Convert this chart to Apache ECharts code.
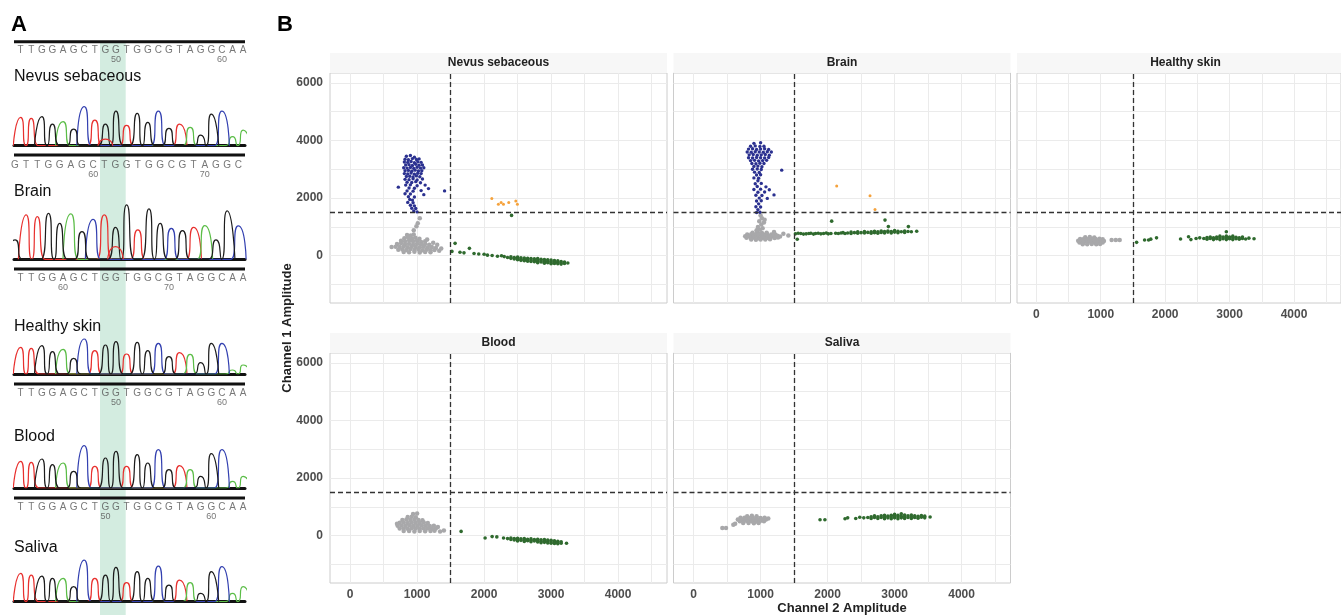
<!DOCTYPE html>
<html>
<head>
<meta charset="utf-8">
<script src="https://cdn.jsdelivr.net/npm/echarts@6/dist/echarts.min.js"></script>
<style>
html, body { margin: 0; padding: 0; background: #fff; }
#chart { width: 1341px; height: 615px; }
</style>
</head>
<body>
<div id="chart"></div>
<script>
// ---------- panel A: Sanger traces ----------
var sampleNames = ['Nevus sebaceous', 'Brain', 'Healthy skin', 'Blood', 'Saliva'];
var seqMain = 'TTGGAGCTGGTGGCGTAGGCAA';
var seqBrain = 'GTTGGAGCTGGTGGCGTAGGC';
// peak heights per base call, in order
var nevusPeaks   = [85, 82, 87, 65, 72, 50, 117, 77, 65, 104, 61, 97, 70, 104, 52, 65, 55, 32, 95, 104, 27, 47];
var brainPeaks   = [58, 133, 128, 138, 108, 136, 83, 120, 133, 96, 163, 88, 151, 108, 93, 86, 96, 101, 58, 145, 100];
var healthyPeaks = [80, 77, 85, 67, 74, 47, 105, 70, 87, 97, 60, 95, 70, 92, 52, 64, 59, 34, 92, 92, 12, 27];
var bloodPeaks   = [80, 77, 87, 70, 75, 50, 127, 65, 90, 110, 65, 100, 75, 115, 55, 67, 55, 35, 103, 115, 20, 35];
var salivaPeaks  = [85, 80, 77, 70, 70, 45, 125, 70, 80, 103, 57, 90, 70, 107, 50, 65, 57, 25, 90, 105, 25, 45];
// small secondary T peaks under the main call: [base index, height]
var nevusMinor = [[8, 20]];
var brainMinor = [[9, 38]];
var healthyMinor = [];
var bloodMinor = [];
var salivaMinor = [];
// position numbers printed under the base letters: [base index, label]
var numsRow1 = [[9, '50'], [19, '60']];
var numsRow2 = [[7, '60'], [17, '70']];
var numsRow3 = [[4, '60'], [14, '70']];
var numsRow4 = [[9, '50'], [19, '60']];
var numsRow5 = [[8, '50'], [18, '60']];

// ---------- panel B: droplet amplitudes ----------
var thresholdX = 1500, thresholdY = 1500;
var xTickLabels = [0, 1000, 2000, 3000, 4000];
var yTickLabels = [0, 2000, 4000, 6000];
var xGridValues = [0, 500, 1000, 1500, 2000, 2500, 3000, 3500, 4000, 4500];
var yGridValues = [-1000, 0, 1000, 2000, 3000, 4000, 5000, 6000];
var facetNames = ['Nevus sebaceous', 'Brain', 'Healthy skin', 'Blood', 'Saliva'];

var nevusGray = [[850,720],[905,700],[950,740],
 [810,610],[865,640],[925,600],[975,620],[1035,590],[900,560],
 [760,520],[820,500],[880,540],[940,500],[1000,520],[1060,480],[1120,500],
 [700,410],[760,430],[820,400],[880,420],[940,390],[1000,420],[1060,400],[1120,410],[1180,380],
 [680,310],[740,300],[800,320],[860,290],[920,310],[980,300],[1040,290],[1100,310],[1160,280],[1220,300],[1280,270],
 [720,210],[780,220],[840,200],[900,230],[960,200],[1020,220],[1080,190],[1140,210],[1200,190],[1260,200],[1330,170],
 [800,130],[880,120],[960,140],[1040,110],[1120,130],[1200,120],
 [620,300],[1360,250],[1300,380],[950,880],[990,1020],[1040,1300],[1010,1130],[1240,450],[1150,560]];
var nevusBlue = [[840,3450],[900,3480],[960,3420],
 [820,3350],[870,3330],[930,3370],[990,3340],[1030,3360],
 [810,3250],[860,3240],[910,3270],[960,3230],[1010,3260],[1060,3240],
 [830,3150],[880,3160],[930,3130],[980,3170],[1030,3140],[1080,3150],
 [800,3050],[850,3040],[900,3060],[950,3030],[1000,3070],[1050,3040],[1100,3050],
 [820,2950],[870,2960],[920,2930],[970,2970],[1020,2940],[1070,2950],
 [810,2850],[860,2840],[910,2870],[960,2830],[1010,2860],[1060,2850],
 [840,2750],[890,2760],[940,2730],[990,2770],[1040,2740],
 [820,2650],[880,2640],[940,2670],[1000,2630],[1080,2660],
 [850,2550],[920,2540],[980,2570],[1050,2530],
 [830,2450],[900,2460],[1000,2430],[1120,2450],
 [720,2380],[880,2350],[960,2340],[1170,2330],
 [850,2250],[940,2240],[1060,2260],[1410,2250],
 [820,2150],[900,2140],[1100,2120],
 [870,2050],[960,2040],[890,1950],[930,1930],[860,1850],[940,1840],
 [900,1750],[960,1730],[920,1650],[980,1640],[950,1550],[1000,1520]];
var nevusGreen = [[1520,150],[1567,430],[1640,120],[1700,100],[1781,256],[1850,80],[1920,60],[2000,50],[2050,20],[2120,10],[2200,-20],[2260,0],[2300,-30],[2350,-60],
 [2400,-40],[2400,-90],[2450,-60],[2450,-110],
 [2500,-50],[2500,-100],[2500,-140],[2550,-70],[2550,-120],[2550,-160],
 [2600,-80],[2600,-130],[2600,-170],[2650,-90],[2650,-140],[2650,-190],
 [2700,-100],[2700,-150],[2700,-200],[2750,-110],[2750,-160],[2750,-210],
 [2800,-100],[2800,-150],[2800,-200],[2800,-240],[2850,-120],[2850,-170],[2850,-220],
 [2900,-130],[2900,-180],[2900,-230],[2900,-260],[2950,-140],[2950,-190],[2950,-240],
 [3000,-150],[3000,-200],[3000,-250],[3000,-280],[3050,-170],[3050,-220],[3050,-270],
 [3100,-180],[3100,-230],[3100,-280],[3150,-200],[3150,-250],[3150,-290],
 [3200,-220],[3200,-270],[3250,-250],[2410,1400]];
var nevusOrange = [[2115,1990],[2213,1790],[2254,1850],[2289,1790],[2368,1850],[2473,1900],[2497,1790]];

var brainGray = [[880,800],[950,810],[1020,790],[1090,800],
 [800,740],[860,745],[920,735],[980,750],[1040,740],[1100,745],[1160,735],[1220,740],
 [770,680],[830,685],[890,675],[950,690],[1010,680],[1070,685],[1130,675],[1190,680],[1250,690],[1290,670],
 [790,620],[850,615],[910,625],[970,610],[1030,620],[1090,615],[1150,625],[1210,615],[1260,630],
 [860,560],[930,555],[1000,565],[1070,560],[1140,570],
 [990,900],[1030,950],[960,1000],[1010,1080],[1050,1150],[980,1200],[1020,1300],[1000,1400],[1060,1250],[940,880],
 [1340,760],[1414,700],[1200,820]];
var brainBlue = [[900,3900],[1000,3920],
 [850,3800],[920,3810],[990,3790],[1050,3800],
 [820,3700],[880,3710],[940,3690],[1000,3700],[1060,3710],[1120,3690],
 [800,3600],[860,3590],[920,3610],[980,3600],[1040,3590],[1100,3610],[1160,3600],
 [830,3500],[890,3510],[950,3490],[1010,3500],[1070,3510],[1130,3490],
 [820,3400],[880,3390],[940,3410],[1000,3400],[1060,3390],[1120,3410],
 [850,3300],[910,3310],[970,3290],[1030,3300],[1090,3310],
 [870,3200],[930,3190],[990,3210],[1050,3200],
 [900,3100],[960,3110],[1020,3090],
 [880,3000],[950,3010],[1010,2990],[1315,2970],
 [910,2900],[980,2890],[940,2800],[1000,2810],[900,2700],[970,2690],[960,2600],
 [920,2500],[1010,2510],[950,2400],[1080,2390],[900,2300],[1000,2310],[1130,2290],
 [960,2200],[1060,2210],[930,2100],[1020,2090],[1200,2110],[980,2000],[1100,1990],
 [940,1900],[1010,1910],[970,1800],[930,1700],[1000,1690],[960,1600],[940,1500],[990,1510]];
var brainGreen = [[1520,760],[1547,570],[1560,780],[1600,770],[1640,750],[1680,760],[1720,770],[1750,780],[1790,750],[1820,770],[1860,780],[1900,760],[1940,770],[1980,790],[2010,760],[2050,770],[2061,1200],[2120,780],[2160,770],[2200,790],[2230,800],[2260,770],
 [2300,790],[2350,770],[2350,820],[2400,800],[2450,780],[2450,830],[2500,800],[2550,790],[2550,840],[2600,810],[2650,780],[2650,830],
 [2700,800],[2700,850],[2750,780],[2750,830],[2800,810],[2800,860],[2850,790],[2850,840],[2900,820],[2900,860],[2950,790],[2950,840],
 [3000,820],[3000,870],[3050,800],[3050,850],[3100,830],[3150,810],[3150,860],[3200,840],[3250,830],[3330,850],
 [2857,1237],[2907,1010],[3206,1010]];
var brainOrange = [[2136,2416],[2633,2080],[2708,1608]];

var healthyGray = [[760,640],[830,650],[900,635],
 [680,580],[740,585],[800,575],[860,590],[920,580],[980,585],[1030,575],
 [650,520],[710,515],[770,525],[830,520],[890,515],[950,525],[1010,520],[1050,510],
 [670,460],[730,455],[790,465],[850,460],[910,455],[970,465],[1030,460],
 [720,400],[790,395],[860,405],[930,400],[990,410],
 [1169,545],[1234,545],[1294,545]];
var healthyGreen = [[1557,465],[1681,545],[1743,545],[1777,575],[1866,620],[2239,580],[2363,660],[2400,560],[2480,600],[2537,620],
 [2600,600],[2650,570],[2650,630],[2700,600],[2700,650],[2750,560],[2750,620],[2800,590],[2800,650],
 [2850,560],[2850,620],[2850,680],[2900,590],[2900,650],[2950,560],[2950,620],[2950,680],[2950,830],
 [3000,590],[3000,650],[3050,560],[3050,620],[3050,680],[3100,590],[3100,640],[3150,570],[3150,620],
 [3200,600],[3200,650],[3250,580],[3300,610],[3380,590]];

var bloodGray = [[940,750],[1000,770],
 [860,650],[920,660],[980,640],
 [780,550],[840,560],[900,545],[960,555],[1020,550],[1080,540],
 [740,450],[800,455],[860,445],[920,460],[980,450],[1040,445],[1100,455],[1160,440],
 [710,350],[770,355],[830,345],[890,360],[950,350],[1010,345],[1070,355],[1130,350],[1190,340],[1250,345],
 [740,250],[800,255],[860,245],[920,260],[980,250],[1040,245],[1100,255],[1160,250],[1220,240],[1280,250],
 [800,160],[880,165],[960,150],[1040,160],[1120,155],[1200,160],[1260,170],
 [1310,300],[1343,150],[1400,180],[700,420]];
var bloodGreen = [[1657,150],[2015,-80],[2120,-30],[2190,-40],[2290,-80],[2350,-100],
 [2400,-80],[2400,-130],[2450,-100],[2450,-150],[2500,-90],[2500,-140],[2500,-180],[2550,-110],[2550,-160],
 [2600,-100],[2600,-150],[2600,-200],[2650,-120],[2650,-170],[2700,-110],[2700,-160],[2700,-210],[2750,-130],[2750,-180],
 [2800,-120],[2800,-170],[2800,-220],[2850,-140],[2850,-190],[2850,-240],[2900,-130],[2900,-180],[2900,-230],
 [2950,-150],[2950,-200],[2950,-250],[3000,-160],[3000,-210],[3000,-260],[3050,-180],[3050,-230],[3050,-270],
 [3100,-190],[3100,-240],[3100,-280],[3150,-210],[3150,-260],[3230,-260]];

var salivaGray = [[800,680],[870,690],[940,675],
 [700,620],[760,625],[820,615],[880,620],[940,625],[1000,615],[1060,620],
 [660,560],[720,565],[780,555],[840,560],[900,565],[960,555],[1020,560],[1080,565],[1115,600],
 [690,500],[750,495],[810,505],[870,500],[930,495],[990,505],[1050,500],
 [740,440],[820,445],[900,435],[970,440],
 [429,267],[484,267],[593,381],[620,420]];
var salivaGreen = [[1887,555],[1960,555],[2260,590],[2300,620],[2420,600],[2480,640],[2540,620],
 [2600,630],[2650,600],[2650,660],[2700,630],[2700,690],[2750,600],[2750,660],[2800,630],[2800,690],
 [2850,590],[2850,650],[2850,710],[2900,620],[2900,680],[2950,590],[2950,650],[2950,710],
 [3000,620],[3000,680],[3000,740],[3050,590],[3050,650],[3050,710],[3100,620],[3100,680],[3100,760],
 [3150,600],[3150,660],[3150,720],[3200,630],[3200,690],[3250,600],[3250,660],[3250,720],
 [3300,630],[3300,690],[3350,610],[3350,670],[3400,640],[3400,700],[3450,620],[3450,680],[3530,650]];

// ---------- build ----------
var chart = echarts.init(document.getElementById('chart'));
var FONT = 'Liberation Sans, Arial, sans-serif';
var grids = [], xAxes = [], yAxes = [], series = [], graphics = [];

function addGrid(g, xa, ya) {
    grids.push(g);
    xa.gridIndex = grids.length - 1;
    ya.gridIndex = grids.length - 1;
    xAxes.push(xa);
    yAxes.push(ya);
    return grids.length - 1;
}

var baseColors = { G: '#1c1c1c', A: '#5bbd47', C: '#3340b0', T: '#e8302e' };
var mainRange = [-0.63, 21.18], brainRange = [-0.09, 20.6];
var halfW = 0.7;

var traces = [
    { seq: seqMain,  peaks: nevusPeaks,   minor: nevusMinor,   range: mainRange,  base: 145.7 },
    { seq: seqBrain, peaks: brainPeaks,   minor: brainMinor,   range: brainRange, base: 259.3 },
    { seq: seqMain,  peaks: healthyPeaks, minor: healthyMinor, range: mainRange,  base: 374 },
    { seq: seqMain,  peaks: bloodPeaks,   minor: bloodMinor,   range: mainRange,  base: 488 },
    { seq: seqMain,  peaks: salivaPeaks,  minor: salivaMinor,  range: mainRange,  base: 601.7 }
];

traces.forEach(function (t) {
    var gi = addGrid(
        { left: 14, width: 231, top: t.base - 60, height: 60, show: false },
        { type: 'value', min: t.range[0], max: t.range[1],
          axisLine: { show: true, onZero: false, lineStyle: { color: '#111', width: 3 } },
          axisTick: { show: false }, axisLabel: { show: false }, splitLine: { show: false } },
        { type: 'value', min: 0, max: 180, show: false }
    );
    function peakLine(pts, color) {
        series.push({
            type: 'line', xAxisIndex: gi, yAxisIndex: gi, data: pts,
            smooth: 0.9, showSymbol: false, silent: true, clip: true, z: 3,
            lineStyle: { color: color, width: 1.2 }
        });
    }
    ['T', 'A', 'C', 'G'].forEach(function (b) {
        var pts = [];
        t.peaks.forEach(function (h, i) {
            if (t.seq.charAt(i) !== b) return;
            // neighbouring calls of the same base share the valley between them
            if (t.seq.charAt(i - 1) !== b) pts.push([i - halfW, 0]);
            pts.push([i, h]);
            pts.push(t.seq.charAt(i + 1) === b ? [i + 0.5, 0] : [i + halfW, 0]);
        });
        pts.sort(function (a, b2) { return a[0] - b2[0]; });
        peakLine(pts, baseColors[b]);
    });
    if (t.minor.length) {
        var mp = [];
        t.minor.forEach(function (m) { mp.push([m[0] - halfW, 0], [m[0], m[1]], [m[0] + halfW, 0]); });
        peakLine(mp, baseColors.T);
    }
});

var letterRows = [
    { seq: seqMain,  nums: numsRow1, range: mainRange,  y: 50 },
    { seq: seqBrain, nums: numsRow2, range: brainRange, y: 165 },
    { seq: seqMain,  nums: numsRow3, range: mainRange,  y: 278 },
    { seq: seqMain,  nums: numsRow4, range: mainRange,  y: 393 },
    { seq: seqMain,  nums: numsRow5, range: mainRange,  y: 507 }
];
letterRows.forEach(function (r) {
    var gi = addGrid(
        { left: 14, width: 231, top: r.y, height: 10, show: false },
        { type: 'value', min: r.range[0], max: r.range[1], show: false },
        { type: 'value', min: 0, max: 1, show: false }
    );
    var letters = r.seq.split('');
    series.push({
        type: 'scatter', xAxisIndex: gi, yAxisIndex: gi, silent: true, symbolSize: 1,
        itemStyle: { color: 'rgba(0,0,0,0)' },
        data: letters.map(function (c, i) { return [i, 1]; }),
        label: { show: true, position: 'inside', fontSize: 10, color: '#555', fontFamily: FONT,
                 formatter: function (p) { return letters[p.dataIndex]; } }
    });
    series.push({
        type: 'scatter', xAxisIndex: gi, yAxisIndex: gi, silent: true, symbolSize: 1,
        itemStyle: { color: 'rgba(0,0,0,0)' },
        data: r.nums.map(function (n) { return [n[0], 0]; }),
        label: { show: true, position: 'inside', fontSize: 9, color: '#555', fontFamily: FONT,
                 formatter: function (p) { return r.nums[p.dataIndex][1]; } }
    });
});

// decorations of panel A
graphics.push({ type: 'rect', z: -5, shape: { x: 100, y: 43, width: 25.7, height: 572 }, style: { fill: '#d3ece0' } });
[41.7, 155, 269, 384, 498].forEach(function (y) {
    graphics.push({ type: 'line', z: 5, shape: { x1: 14, y1: y, x2: 245, y2: y }, style: { stroke: '#111', lineWidth: 3 } });
});
var nameY = [77, 191.7, 326.7, 436.7, 548];
sampleNames.forEach(function (n, i) {
    graphics.push({ type: 'text', z: 10, x: 14, y: nameY[i],
        style: { text: n, fontSize: 16, fontFamily: FONT, fill: '#111', textVerticalAlign: 'middle' } });
});
graphics.push({ type: 'text', z: 10, x: 11, y: 25, style: { text: 'A', fontSize: 22, fontWeight: 'bold', fontFamily: FONT, fill: '#000', textVerticalAlign: 'middle' } });
graphics.push({ type: 'text', z: 10, x: 277, y: 25, style: { text: 'B', fontSize: 22, fontWeight: 'bold', fontFamily: FONT, fill: '#000', textVerticalAlign: 'middle' } });

// panel B facets
var facetW = 337, facetH = 230;
var facetPos = [[330, 73], [673.5, 73], [1017, 73], [330, 353], [673.5, 353]];
var facetData = [
    { gray: nevusGray,   blue: nevusBlue, green: nevusGreen,   orange: nevusOrange },
    { gray: brainGray,   blue: brainBlue, green: brainGreen,   orange: brainOrange },
    { gray: healthyGray, blue: [],        green: healthyGreen, orange: [] },
    { gray: bloodGray,   blue: [],        green: bloodGreen,   orange: [] },
    { gray: salivaGray,  blue: [],        green: salivaGreen,  orange: [] }
];
var dropColors = { gray: '#a8a8aa', blue: '#2b3190', green: '#2f6a2e', orange: '#f5a23c' };
var dropSizes = { gray: 4.5, blue: 3.4, green: 3.6, orange: 3 };
var tickText = { color: '#4d4d4d', fontSize: 12, fontWeight: 'bold', fontFamily: FONT };

facetData.forEach(function (f, k) {
    var left = facetPos[k][0], top = facetPos[k][1];
    var gi = addGrid(
        { left: left, top: top, width: facetW, height: facetH, show: true,
          borderColor: '#cccccc', borderWidth: 1, backgroundColor: '#fff' },
        { type: 'value', min: -300, max: 4730,
          axisLine: { show: false },
          axisTick: { show: false, customValues: xGridValues },
          axisLabel: Object.assign({ show: k >= 2, margin: 6, customValues: xTickLabels,
                                     formatter: function (v) { return String(v); } }, tickText),
          splitLine: { show: true, lineStyle: { color: '#ebebeb', width: 1 } } },
        { type: 'value', min: -1640, max: 6340,
          axisLine: { show: false },
          axisTick: { show: false, customValues: yGridValues },
          axisLabel: Object.assign({ show: k === 0 || k === 3, margin: 7, customValues: yTickLabels,
                                     formatter: function (v) { return String(v); } }, tickText),
          splitLine: { show: true, lineStyle: { color: '#ebebeb', width: 1 } } }
    );
    ['gray', 'blue', 'orange', 'green'].forEach(function (c, ci) {
        var s = {
            type: 'scatter', xAxisIndex: gi, yAxisIndex: gi, data: f[c], silent: true,
            symbolSize: dropSizes[c], itemStyle: { color: dropColors[c], opacity: 1 }
        };
        if (ci === 0) {
            s.markLine = {
                silent: true, symbol: 'none', label: { show: false }, z: 5,
                lineStyle: { color: '#333', type: [5, 3], width: 1.3 },
                data: [{ xAxis: thresholdX }, { yAxis: thresholdY }]
            };
        }
        series.push(s);
    });
    graphics.push({ type: 'rect', shape: { x: left, y: top - 20, width: facetW, height: 20 }, style: { fill: '#f7f7f7' } });
    graphics.push({ type: 'text', x: left + facetW / 2, y: top - 10,
        style: { text: facetNames[k], fontSize: 12, fontWeight: 'bold', fontFamily: FONT, fill: '#222',
                 textAlign: 'center', textVerticalAlign: 'middle' } });
});

graphics.push({ type: 'text', x: 842, y: 608,
    style: { text: 'Channel 2 Amplitude', fontSize: 13, fontWeight: 'bold', fontFamily: FONT, fill: '#222',
             textAlign: 'center', textVerticalAlign: 'middle' } });
graphics.push({ type: 'text', x: 287, y: 328, rotation: Math.PI / 2,
    style: { text: 'Channel 1 Amplitude', fontSize: 13, fontWeight: 'bold', fontFamily: FONT, fill: '#222',
             textAlign: 'center', textVerticalAlign: 'middle' } });

chart.setOption({
    animation: false,
    backgroundColor: '#fff',
    textStyle: { fontFamily: FONT },
    grid: grids,
    xAxis: xAxes,
    yAxis: yAxes,
    series: series,
    graphic: graphics
});
</script>
</body>
</html>
